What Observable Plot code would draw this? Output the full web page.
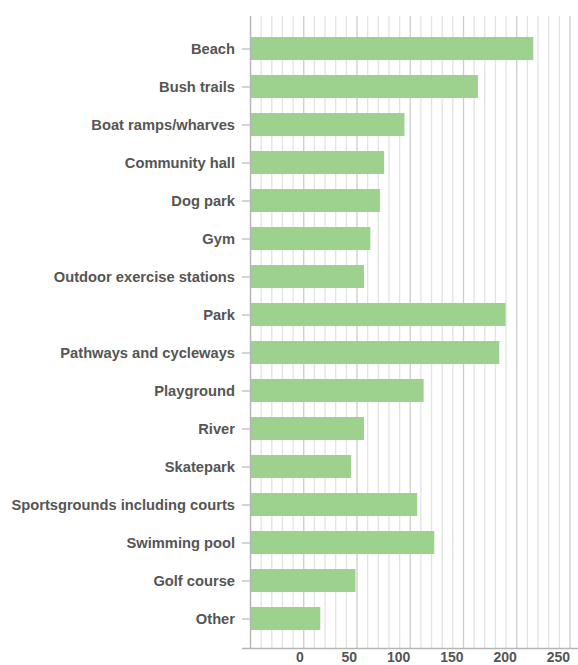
<!DOCTYPE html>
<html>
<head>
<meta charset="utf-8">
<script src="https://cdn.jsdelivr.net/npm/d3@7"></script>
<script src="https://cdn.jsdelivr.net/npm/@observablehq/plot@0.6"></script>
<style>
  html, body { margin: 0; padding: 0; background: #fff; }
  #chart svg { display: block; }
</style>
</head>
<body>
<div id="chart"></div>
<script>
const categories = [
  "Beach", "Bush trails", "Boat ramps/wharves", "Community hall", "Dog park", "Gym",
  "Outdoor exercise stations", "Park", "Pathways and cycleways", "Playground", "River",
  "Skatepark", "Sportsgrounds including courts", "Swimming pool", "Golf course", "Other"
];
const values = [266, 214, 145, 126, 122, 113, 107, 240, 234, 163, 107, 95, 157, 173, 99, 66];
const tickLabels = [0, 50, 100, 150, 200, 250];
const majorTicks = [0, 50, 100, 150, 200, 250, 300];
const minorTicks = d3.range(0, 301, 10).filter(v => v % 50 !== 0);

const data = categories.map((category, i) => ({category, value: values[i]}));

const chart = Plot.plot({
  width: 578,
  height: 665,
  marginLeft: 250,
  marginRight: 8.5,
  marginTop: 16,
  marginBottom: 17,
  style: {fontFamily: "'Liberation Sans', Arial, Helvetica, sans-serif", fontWeight: "bold", color: "#555", background: "white"},
  x: {domain: [0, 300], axis: null},
  y: {domain: categories, insetTop: 11, insetBottom: 8, paddingInner: 0.4, paddingOuter: 0.2, axis: null},
  marks: [
    Plot.gridX({ticks: minorTicks, stroke: "#e3e3e3", strokeOpacity: 1, strokeWidth: 1.3}),
    Plot.gridX({ticks: majorTicks, stroke: "#cdcdcd", strokeOpacity: 1, strokeWidth: 1.3}),
    Plot.barX(data, {x: "value", y: "category", fill: "#9dd18e"}),
    Plot.ruleX([0], {stroke: "#b5b5b5", strokeWidth: 1.3}),
    Plot.frame({anchor: "bottom", stroke: "#b5b5b5", strokeWidth: 1.3, insetLeft: -8, insetRight: -8.5}),
    Plot.axisY({tickSize: 8, tickPadding: 7.5, stroke: "#aaa", fill: "#555", fontSize: 14.7, fontWeight: "bold", label: null}),
    Plot.text(tickLabels, {
      x: d => d + 50, text: d => String(d), frameAnchor: "bottom", lineAnchor: "bottom",
      textAnchor: "end", dy: 13.5, fill: "#555", fontSize: 14, fontWeight: "bold"
    })
  ]
});
document.getElementById("chart").append(chart);
</script>
</body>
</html>
